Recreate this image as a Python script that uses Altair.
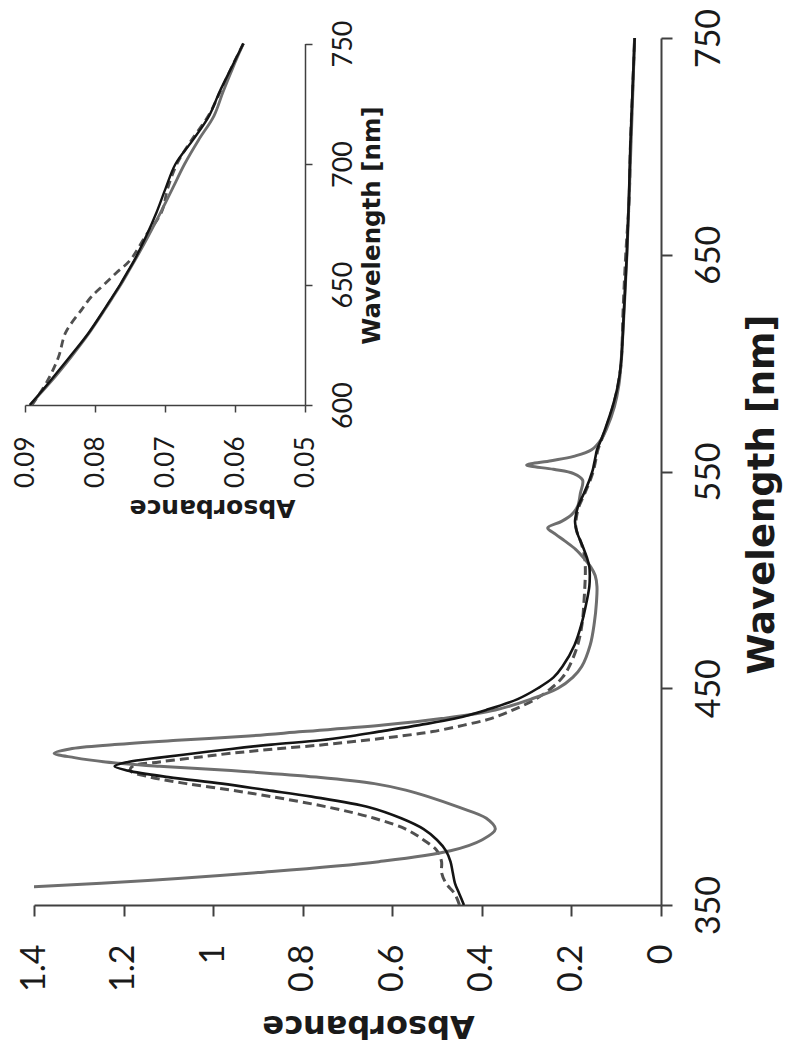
import altair as alt
import pandas as pd

# ---------------- main panel data ----------------
wavelength = [350, 355, 360, 365, 370, 375, 380, 385, 390, 395, 400, 403, 406, 409,
              412, 414, 416, 418, 420, 422, 424, 426, 428, 430, 433, 436, 440, 445,
              450, 455, 460, 470, 480, 490, 497, 502, 506, 510, 514, 518, 521, 524,
              527, 530, 534, 540, 546, 549, 551, 553, 555, 557, 560, 565, 570, 580,
              590, 600, 625, 650, 675, 700, 725, 750]

abs_gray = [2.30, 1.72, 1.25, 0.90, 0.63, 0.47, 0.40, 0.37, 0.39, 0.45, 0.52, 0.57, 0.64, 0.77,
            0.96, 1.12, 1.24, 1.31, 1.355, 1.32, 1.22, 1.08, 0.92, 0.80, 0.62, 0.49, 0.37, 0.29,
            0.23, 0.197, 0.177, 0.158, 0.149, 0.144, 0.143, 0.147, 0.157, 0.172, 0.19, 0.215, 0.235, 0.253,
            0.222, 0.200, 0.186, 0.180, 0.175, 0.195, 0.24, 0.30, 0.245, 0.195, 0.155, 0.133, 0.121, 0.104,
            0.094, 0.0893, 0.0822, 0.0762, 0.0715, 0.0672, 0.0630, 0.0590]

abs_black = [0.44, 0.45, 0.46, 0.465, 0.47, 0.48, 0.50, 0.53, 0.58, 0.65, 0.78, 0.88, 0.98, 1.10,
             1.19, 1.22, 1.19, 1.12, 1.04, 0.96, 0.87, 0.76, 0.69, 0.63, 0.54, 0.46, 0.39, 0.32,
             0.275, 0.24, 0.22, 0.193, 0.177, 0.166, 0.16, 0.159, 0.16, 0.165, 0.172, 0.18, 0.186, 0.19,
             0.192, 0.19, 0.185, 0.172, 0.16, 0.155, 0.152, 0.15, 0.148, 0.146, 0.143, 0.133, 0.124, 0.108,
             0.096, 0.0893, 0.0825, 0.0763, 0.0718, 0.0685, 0.0637, 0.0588]

abs_dashed = [0.45, 0.46, 0.48, 0.49, 0.49, 0.50, 0.53, 0.57, 0.64, 0.74, 0.87, 0.96, 1.06, 1.14,
              1.185, 1.18, 1.12, 1.04, 0.96, 0.86, 0.75, 0.66, 0.58, 0.51, 0.44, 0.38, 0.33, 0.28,
              0.245, 0.22, 0.205, 0.186, 0.176, 0.172, 0.17, 0.169, 0.169, 0.17, 0.174, 0.18, 0.186, 0.19,
              0.19, 0.188, 0.183, 0.17, 0.158, 0.153, 0.15, 0.148, 0.146, 0.144, 0.141, 0.132, 0.123, 0.107,
              0.096, 0.089, 0.0845, 0.0787, 0.0712, 0.0683, 0.0636, 0.0588]

# ---------------- inset data (600-750 nm) ----------------
wavelength_inset = [600, 610, 620, 630, 640, 645, 650, 655, 660, 670, 680, 690, 700, 710, 720, 730, 740, 750]
inset_gray = [0.0893, 0.0862, 0.0834, 0.0808, 0.0785, 0.0774, 0.0763, 0.0753, 0.0743, 0.0724, 0.0706,
              0.0689, 0.0672, 0.0652, 0.0630, 0.0617, 0.0603, 0.0588]
inset_black = [0.0893, 0.0864, 0.0836, 0.0809, 0.0786, 0.0775, 0.0764, 0.0754, 0.0744, 0.0727, 0.0712,
               0.0699, 0.0685, 0.0660, 0.0637, 0.0622, 0.0605, 0.0588]
inset_dashed = [0.0890, 0.0868, 0.0852, 0.0842, 0.0818, 0.0805, 0.0787, 0.0769, 0.0750, 0.0728, 0.0705,
                0.0696, 0.0683, 0.0662, 0.0638, 0.0621, 0.0605, 0.0588]

main_ticks_abs = [0, 0.2, 0.4, 0.6, 0.8, 1.0, 1.2, 1.4]
main_ticks_wl = [350, 450, 550, 650, 750]
inset_ticks_abs = [0.05, 0.06, 0.07, 0.08, 0.09]
inset_ticks_wl = [600, 650, 700, 750]

assert len(wavelength) == len(abs_gray) == len(abs_black) == len(abs_dashed)
assert len(wavelength_inset) == len(inset_gray) == len(inset_black) == len(inset_dashed)

LABEL_FONT = "Lato"
TITLE_FONT = "DejaVu Sans"
TXT = "#1a1a1a"
AXIS_COLOR = "#404040"
C_BLACK = "#141414"
C_GRAY = "#6e6e6e"
C_DASH = "#505050"

W, H = 627, 867

main_df = pd.DataFrame({"wl": wavelength, "gray": abs_gray, "black": abs_black, "dashed": abs_dashed})
inset_df = pd.DataFrame({"wl": wavelength_inset, "gray": inset_gray, "black": inset_black, "dashed": inset_dashed})

common = dict(grid=False, labelFlush=False, labelOverlap=False, labelFont=LABEL_FONT, labelColor=TXT,
              titleFont=TITLE_FONT, titleFontWeight="bold", titleColor=TXT,
              tickColor=AXIS_COLOR, domainColor=AXIS_COLOR, titleAlign="center", titleBaseline="middle")

main_x_axis = alt.Axis(orient="bottom", values=main_ticks_abs, format="~g", labelAngle=-90, labelAlign="right",
                       labelBaseline="middle", labelPadding=28, labelFontSize=34,
                       tickSize=11, tickWidth=2, domainWidth=2,
                       title="Absorbance", titleAngle=180, titleFontSize=32, titleX=334, titleY=120, **common)
main_y_axis = alt.Axis(orient="right", values=main_ticks_wl, labelAngle=-90, labelAlign="center",
                       labelBaseline="top", labelPadding=20, labelFontSize=34,
                       tickSize=11, tickWidth=2, domainWidth=2,
                       title="Wavelength [nm]", titleAngle=270, titleFontSize=37, titleX=101, titleY=456,
                       **common)

main_x = alt.X("a:Q", scale=alt.Scale(domain=[0, 1.4], reverse=True, nice=False, zero=False), axis=main_x_axis)
main_y = alt.Y("wl:Q", scale=alt.Scale(domain=[350, 750], nice=False, zero=False), axis=main_y_axis)


def main_line(col, color, width, dash=None):
    kw = dict(color=color, strokeWidth=width, clip=True, interpolate="catmull-rom")
    if dash:
        kw["strokeDash"] = dash
    return alt.Chart(main_df).transform_calculate(a=f"datum.{col}").mark_line(**kw).encode(
        x=main_x, y=main_y, order=alt.Order("wl:Q"))


main = alt.layer(
    main_line("dashed", C_DASH, 3, [9, 5]),
    main_line("gray", C_GRAY, 3),
    main_line("black", C_BLACK, 2.6),
)

# inset placed with explicit pixel ranges inside the same view
ix0, ix1 = -9, 271      # 0.09 -> 0.05
iy0, iy1 = 367, 5.5     # 600 -> 750

inset_x_axis = alt.Axis(orient="bottom", values=inset_ticks_abs, format=".2f", labelAngle=-90, labelAlign="right",
                        labelBaseline="middle", labelPadding=24, labelFontSize=26,
                        tickSize=7, tickWidth=1.5, domainWidth=1.5, offset=-(H - iy0),
                        title="Absorbance", titleAngle=180, titleFontSize=25, titleX=178, titleY=102, **common)
inset_y_axis = alt.Axis(orient="right", values=inset_ticks_wl, labelAngle=-90, labelAlign="center",
                        labelBaseline="top", labelPadding=18, labelFontSize=27,
                        tickSize=7, tickWidth=1.5, domainWidth=1.5, offset=-(W - ix1),
                        title="Wavelength [nm]", titleAngle=270, titleFontSize=24.5, titleX=67, titleY=187,
                        **common)

inset_x = alt.X("a:Q", scale=alt.Scale(domain=[0.05, 0.09], range=[ix1, ix0], nice=False, zero=False),
                axis=inset_x_axis)
inset_y = alt.Y("wl:Q", scale=alt.Scale(domain=[600, 750], range=[iy0, iy1], nice=False, zero=False),
                axis=inset_y_axis)


def inset_line(col, color, width, dash=None):
    kw = dict(color=color, strokeWidth=width, interpolate="catmull-rom")
    if dash:
        kw["strokeDash"] = dash
    return alt.Chart(inset_df).transform_calculate(a=f"datum.{col}").mark_line(**kw).encode(
        x=inset_x, y=inset_y, order=alt.Order("wl:Q"))


inset = alt.layer(
    inset_line("dashed", C_DASH, 2.8, [8, 5]),
    inset_line("gray", C_GRAY, 2.8),
    inset_line("black", C_BLACK, 2.4),
)

chart = alt.layer(main, inset).resolve_scale(x="independent", y="independent").properties(
    width=W, height=H,
    autosize=alt.AutoSizeParams(type="none"),
    padding={"left": 26, "top": 30, "right": 122, "bottom": 144},
).configure_view(stroke=None)

chart.save("out.html", embed_options={"renderer": "svg", "actions": False})
